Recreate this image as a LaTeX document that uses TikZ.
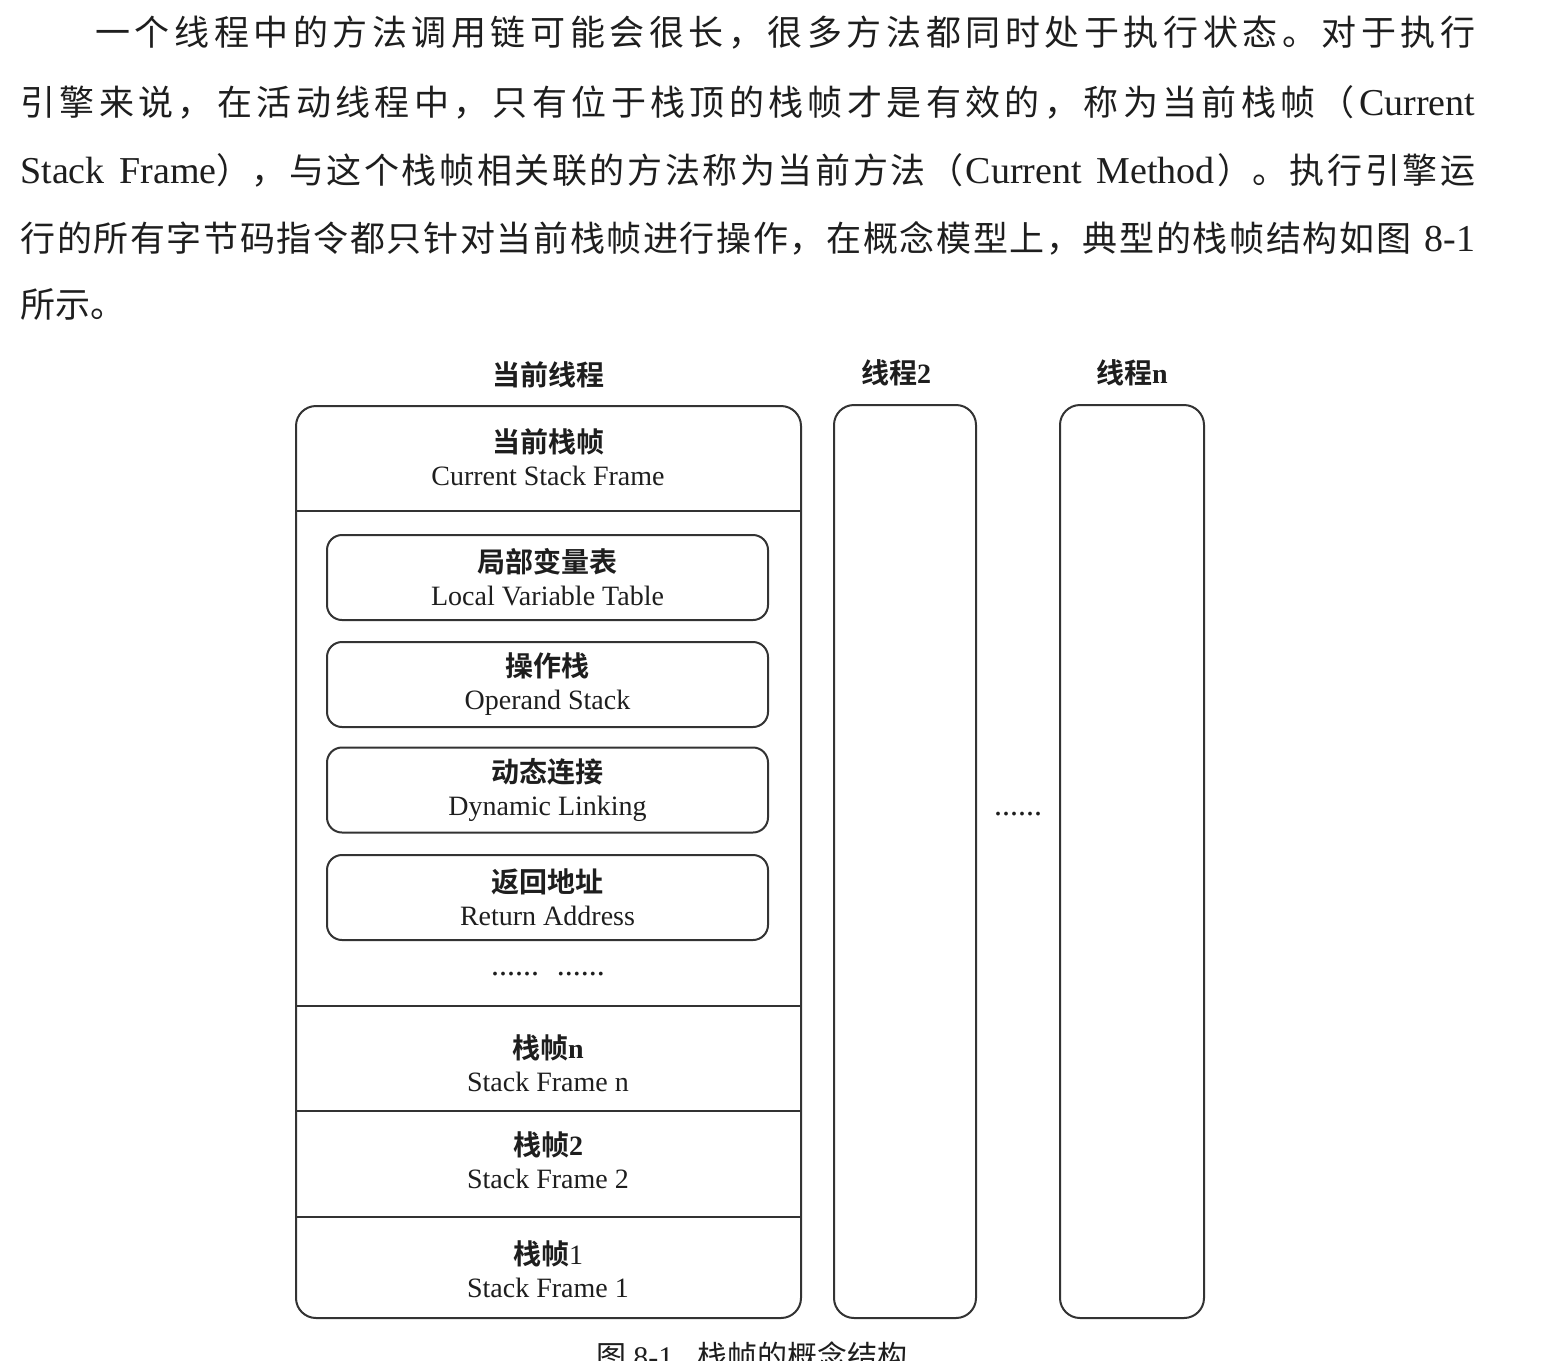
\documentclass[tikz,border=0pt]{standalone}
\usepackage{fontspec}
\setmainfont{Noto Sans CJK SC}
\newfontfamily\lat{Liberation Serif}
\newfontfamily\cjkb{Noto Sans CJK SC Bold}
\definecolor{ink}{HTML}{1E1E1E}
\definecolor{edge}{HTML}{333333}
\newcommand{\jline}[2]{\makebox[#1][s]{\spaceskip=0pt plus 1fil\relax #2}}
\newcommand{\ws}{\hspace{6pt plus 1fil}}
\newcommand{\la}[1]{{\lat\fontsize{19pt}{20pt}\selectfont #1}}
\begin{document}
\begin{tikzpicture}[x=0.5pt,y=-0.5pt,
  para/.style={anchor=base west, inner sep=0pt, text=ink,
    font=\fontsize{17.5pt}{20pt}\selectfont},
  title/.style={inner sep=0pt, text=ink, font=\fontsize{14pt}{16.5pt}\selectfont\cjkb},
  lbl/.style={inner sep=0pt, align=center, text=ink, font=\fontsize{14pt}{16.5pt}\selectfont},
  outer/.style={draw=edge, line width=1pt, rounded corners=10pt, inner sep=0pt},
  inner/.style={draw=edge, line width=1pt, rounded corners=7.5pt, inner sep=0pt,
    minimum width=220.5pt, minimum height=42.5pt},
  divider/.style={draw=edge, line width=1pt},
  dots/.style={anchor=base, inner sep=0pt, text=ink, font=\fontsize{16pt}{18pt}\selectfont\lat}]
\useasboundingbox[fill=white] (0,0) rectangle (1546,1360);

% paragraph
\node[para] (p1) at (95,46) {\jline{690pt}{一 个 线 程 中 的 方 法 调 用 链 可 能 会 很 长 ， 很 多 方 法 都 同 时 处 于 执 行 状 态 。 对 于 执 行}};
\node[para] (p2) at (20,115) {\jline{727.5pt}{引 擎 来 说 ， 在 活 动 线 程 中 ， 只 有 位 于 栈 顶 的 栈 帧 才 是 有 效 的 ， 称 为 当 前 栈 帧 （ \la{Current}}};
\node[para] (p3) at (20,183) {\jline{727.5pt}{\la{Stack}\ws\la{Frame}）， 与 这 个 栈 帧 相 关 联 的 方 法 称 为 当 前 方 法 （ \la{Current}\ws\la{Method} ）。 执 行 引 擎 运}};
\node[para] (p4) at (20,251) {\jline{727.5pt}{行 的 所 有 字 节 码 指 令 都 只 针 对 当 前 栈 帧 进 行 操 作 ， 在 概 念 模 型 上 ， 典 型 的 栈 帧 结 构 如 图\ws\la{8-1}}};
\node[para] (p5) at (20,317) {所示。};

% thread titles
\node[title] (t1) at (548,375) {当前线程};
\node[title] (t2) at (896,373) {线程{\lat\bfseries 2}};
\node[title] (tn) at (1132,373) {线程{\lat\bfseries n}};

% thread boxes
\node[outer, minimum width=252.5pt, minimum height=456pt] (cur) at (548.5,862) {};
\node[outer, minimum width=71pt, minimum height=456.5pt] (th2) at (905,861.5) {};
\node[outer, minimum width=72pt, minimum height=456.5pt] (thn) at (1132,861.5) {};

% dividers in current thread
\draw[divider] (296,511) -- (801,511);
\draw[divider] (296,1006) -- (801,1006);
\draw[divider] (296,1111) -- (801,1111);
\draw[divider] (296,1217) -- (801,1217);

% current frame
\node[lbl] (csf) at (548,457) {{\cjkb 当前栈帧}\\{\lat Current Stack Frame}};

% inner boxes
\node[inner] (lvt) at (547.5,577.5) {};
\node[lbl] at (lvt.center) {{\cjkb 局部变量表}\\{\lat Local Variable Table}};
\node[inner] (ops) at (547.5,684.5) {};
\node[lbl] at (ops.center) {{\cjkb 操作栈}\\{\lat Operand Stack}};
\node[inner] (dyn) at (547.5,790) {};
\node[lbl] at (dyn.center) {{\cjkb 动态连接}\\{\lat Dynamic Linking}};
\node[inner] (ret) at (547.5,897.5) {};
\node[lbl] at (ret.center) {{\cjkb 返回地址}\\{\lat Return Address}};

\node[dots] (d1) at (548,975) {......\hspace{9pt}......};
\node[dots] (d2) at (1018,815) {......};

% other frames
\node[lbl] (sfn) at (548,1063) {{\cjkb 栈帧}{\lat\bfseries n}\\{\lat Stack Frame n}};
\node[lbl] (sf2) at (548,1160) {{\cjkb 栈帧}{\lat\bfseries 2}\\{\lat Stack Frame 2}};
\node[lbl] (sf1) at (548,1269) {{\cjkb 栈帧}{\lat 1}\\{\lat Stack Frame 1}};

% caption (cut off by the page edge, as in the reference)
\begin{scope}
\clip (0,0) rectangle (1546,1360);
\node[anchor=north, inner sep=0pt, text=ink, font=\fontsize{15pt}{18pt}\selectfont] (cap) at (752,1341)
  {图 {\lat 8-1}\hspace{12pt}栈帧的概念结构};
\end{scope}
\end{tikzpicture}
\end{document}
